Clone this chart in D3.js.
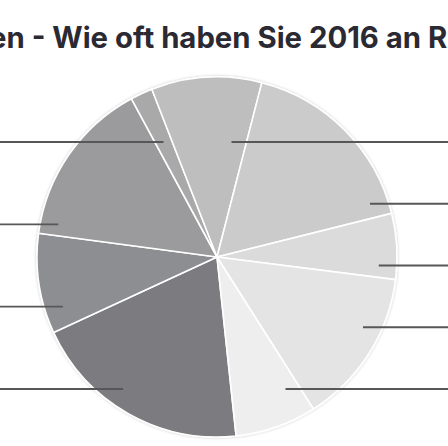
<!DOCTYPE html>
<html>
<head>
    <meta charset="utf-8">
    <script src="https://d3js.org/d3.v7.min.js"></script>
    <style>
        html, body { margin: 0; padding: 0; background: #ffffff; overflow: hidden; }
        .title { font-family: Inter, "Noto Sans", sans-serif; font-weight: 700; font-size: 29.3px; fill: #2b2a33; }
        .leader { stroke: #575757; stroke-width: 1.8; fill: none; }
    </style>
</head>
<body>
<div id="chart"></div>
<script>
    // answer categories (labels lie outside the visible crop), in drawing order
    const categories = ['k1', 'k2', 'k3', 'k4', 'k5', 'k6', 'k7', 'k8', 'k9']
    const shares = [19.8, 9.0, 15.0, 2.0, 9.9, 17.1, 5.9, 14.0, 7.3]
    const greys = ['#7b7c80', '#8d8e91', '#9b9b9d', '#a9a9aa', '#bebebe', '#cbcbcb', '#dbdbdb', '#e4e4e4', '#eeeeee']
    const titleText = 'en - Wie oft haben Sie 2016 an R'

    const w = 448
    const h = 446
    const cx = 217
    const cy = 257
    const radius = 180
    const startDeg = 173.9
    const leftCount = 4
    const rowTop = 142
    const rowBottom = 389

    const svg = d3.select('#chart')
        .append('svg')
        .attr('width', w)
        .attr('height', h)

    const defs = svg.append('defs')
    defs.append('filter')
        .attr('id', 'shadow')
        .attr('x', '-10%').attr('y', '-10%')
        .attr('width', '120%').attr('height', '120%')
        .append('feDropShadow')
        .attr('dx', 0).attr('dy', 0)
        .attr('stdDeviation', 1.6)
        .attr('flood-color', '#000')
        .attr('flood-opacity', 0.22)

    svg.append('text')
        .attr('class', 'title')
        .attr('x', -11)
        .attr('y', 48)
        .text(titleText)

    const colour = d3.scaleOrdinal()
        .domain(categories)
        .range(greys)

    const start = startDeg * Math.PI / 180
    const pie = d3.pie()
        .sort(null)
        .value(d => d.value)
        .startAngle(start)
        .endAngle(start + 2 * Math.PI)

    const arcs = pie(categories.map((c, i) => ({ key: c, value: shares[i] })))

    const arc = d3.arc()
        .innerRadius(0)
        .outerRadius(radius)

    const g = svg.append('g')
        .attr('transform', 'translate(' + cx + ',' + cy + ')')

    g.append('g')
        .attr('filter', 'url(#shadow)')
        .selectAll('path')
        .data(arcs)
        .enter()
        .append('path')
        .attr('d', arc)
        .style('fill', d => colour(d.data.key))
        .style('stroke', '#ffffff')
        .style('stroke-width', 1.6)
        .style('stroke-linejoin', 'round')

    // label rows: left column bottom-up, right column top-down
    const leftRows = d3.scaleLinear().domain([0, leftCount - 1]).range([rowBottom, rowTop])
    const rightRows = d3.scaleLinear().domain([0, arcs.length - leftCount - 1]).range([rowTop, rowBottom])

    // does the point (x, y) relative to the centre fall inside slice d?
    function inSlice(d, x, y) {
        if (x * x + y * y > radius * radius) return false
        let a = Math.atan2(x, -y)
        while (a < d.startAngle) a += 2 * Math.PI
        return a <= d.endAngle
    }

    arcs.forEach((d, i) => {
        const left = i < leftCount
        const y = left ? leftRows(i) : rightRows(i - leftCount)
        const dy = y - cy
        const side = left ? -1 : 1
        // part of the row that lies in the slice
        const xs = d3.range(-radius, radius, 0.5).filter(x => inSlice(d, x, dy))
        const lo = d3.min(xs)
        const hi = d3.max(xs)
        const target = side * Math.sqrt(Math.max(0, (0.9 * radius) ** 2 - dy * dy))
        const margin = Math.min(15, (hi - lo) / 2)
        const inner = Math.max(lo + margin, Math.min(hi - margin, target))
        const outer = left ? -cx - 10 : w - cx + 10
        g.append('line')
            .attr('class', 'leader')
            .attr('x1', outer)
            .attr('y1', dy)
            .attr('x2', inner)
            .attr('y2', dy)
    })
</script>
</body>
</html>
